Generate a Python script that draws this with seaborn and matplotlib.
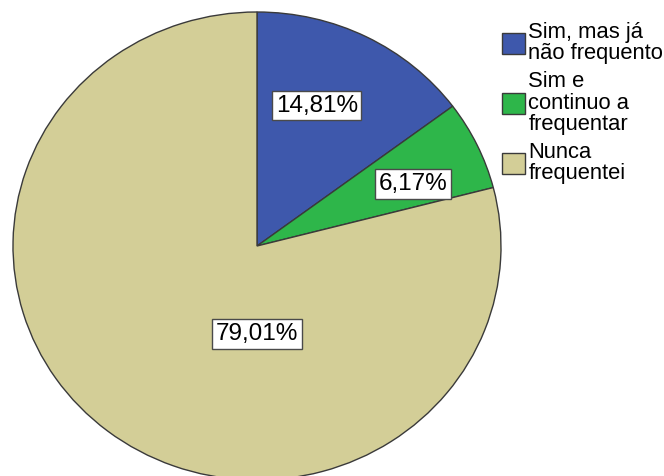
import matplotlib
matplotlib.use("Agg")
import matplotlib.pyplot as plt
import seaborn as sns

categories = ["Sim, mas já\nnão frequento", "Sim e\ncontinuo a\nfrequentar", "Nunca\nfrequentei"]
percent = [14.81, 6.17, 79.01]
pct_labels = ["14,81%", "6,17%", "79,01%"]
colors = sns.color_palette(["#3E58AC", "#2EB64A", "#D3CE97"])

# label anchors in axis data units (pie radius = 1)
label_xy = [(0.245, 0.60), (0.64, 0.265), (0.0, -0.376)]

sns.set_theme(style="white")
plt.rcParams["font.family"] = ["Liberation Sans", "DejaVu Sans"]
plt.rcParams["text.color"] = "black"

fig = plt.figure(figsize=(6.64, 4.76), dpi=100)
ax = fig.add_axes([13 / 664, -4 / 476, 488 / 664, 468 / 476])
wedges, _ = ax.pie(percent, colors=colors, startangle=90, counterclock=False,
                   radius=1.0, wedgeprops={"edgecolor": "#3a3a3a", "linewidth": 1.0})
ax.set_aspect("auto")
ax.set_xlim(-1, 1)
ax.set_ylim(-1, 1)
ax.axis("off")

for (x, y), lab in zip(label_xy, pct_labels):
    ax.text(x, y, lab, ha="center", va="center", fontsize=17.5, color="black",
            bbox={"boxstyle": "square,pad=0.15", "facecolor": "white", "edgecolor": "#4a4a4a", "linewidth": 1.0})

fig.legend(wedges, categories, loc="upper left", bbox_to_anchor=(502 / 664, 1 - 22 / 476),
           frameon=False, fontsize=15.8, handlelength=1.05, handleheight=1.05,
           handletextpad=0.15, labelspacing=0.32, borderpad=0, borderaxespad=0,
           labelcolor="black")
for t in fig.legends[0].get_texts():
    t.set_linespacing(1.02)

fig.savefig("out.png", dpi=100)
